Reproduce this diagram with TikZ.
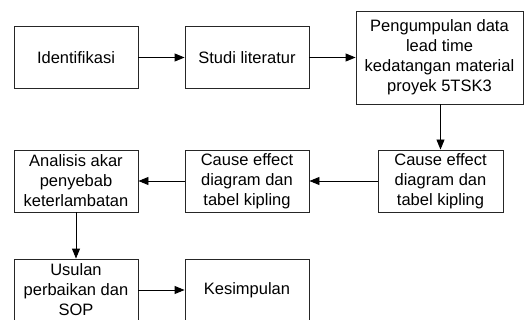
\documentclass[tikz,border=0pt]{standalone}
\usepackage{fontspec}
\setmainfont{Liberation Sans}
\usetikzlibrary{arrows.meta}
\begin{document}
\begin{tikzpicture}[x=1pt,y=-1pt,
  box/.style={draw=black!85,line width=0.9pt,fill=white,inner sep=0pt,align=center,
    font=\fontsize{16.5}{20}\selectfont},
  std/.style={box,minimum width=124pt,minimum height=62pt},
  arr/.style={line width=0.9pt,-{Triangle[length=10pt,width=8pt]}}]
\clip (0,0) rectangle (524,320);
\fill[white] (0,0) rectangle (524,320);
\node[std] (b1) at (76,57.5) {Identifikasi};
\node[std] (b2) at (247,57.5) {Studi literatur};
\node[box,minimum width=167pt,minimum height=93pt] (b3) at (439.5,57.5) {Pengumpulan data\\lead time\\kedatangan material\\proyek 5TSK3};
\node[std,minimum width=125pt] (b4) at (440.5,181) {Cause effect\\diagram dan\\tabel kipling};
\node[std] (b5) at (247,181) {Cause effect\\diagram dan\\tabel kipling};
\node[std] (b6) at (76,181) {Analisis akar\\penyebab\\keterlambatan};
\node[std] (b7) at (76,290) {Usulan\\perbaikan dan\\SOP};
\node[std] (b8) at (247,290) {Kesimpulan};
\draw[arr] (b1) -- (b2);
\draw[arr] (b2) -- (b3.west |- b2);
\draw[arr] (b3.south -| b4) -- (b4);
\draw[arr] (b4) -- (b5);
\draw[arr] (b5) -- (b6);
\draw[arr] (b6) -- (b7);
\draw[arr] (b7) -- (b8);
\end{tikzpicture}
\end{document}
